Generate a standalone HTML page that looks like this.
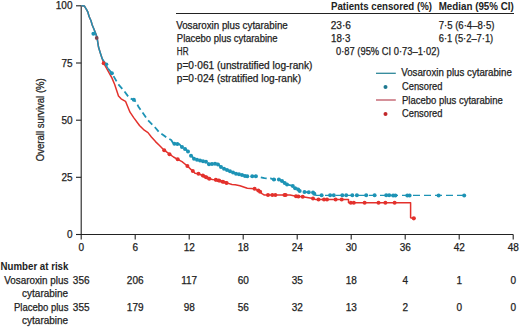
<!DOCTYPE html>
<html><head><meta charset="utf-8"><style>
html,body{margin:0;padding:0;background:#fff;}
body{width:520px;height:328px;overflow:hidden;}
svg{display:block;font-family:"Liberation Sans",sans-serif;fill:#222;}
text{stroke:#222;stroke-width:0.25px;}
text[font-weight=bold]{stroke-width:0;}
</style></head><body>
<svg width="520" height="328" viewBox="0 0 520 328">
<path d="M81.2,5.8 V234.5 H513.2" fill="none" stroke="#222" stroke-width="1.1"/>
<path d="M76,234.5 H81.2" stroke="#222" stroke-width="1.1"/>
<text x="72.5" y="238.0" text-anchor="end" font-size="10" >0</text>
<path d="M76,177.3 H81.2" stroke="#222" stroke-width="1.1"/>
<text x="72.5" y="180.8" text-anchor="end" font-size="10" >25</text>
<path d="M76,120.2 H81.2" stroke="#222" stroke-width="1.1"/>
<text x="72.5" y="123.7" text-anchor="end" font-size="10" >50</text>
<path d="M76,63.0 H81.2" stroke="#222" stroke-width="1.1"/>
<text x="72.5" y="66.5" text-anchor="end" font-size="10" >75</text>
<path d="M76,5.8 H81.2" stroke="#222" stroke-width="1.1"/>
<text x="72.5" y="9.3" text-anchor="end" font-size="10" >100</text>
<path d="M81.2,234.5 V239.5" stroke="#222" stroke-width="1.1"/>
<text x="81.2" y="251.3" text-anchor="middle" font-size="10" >0</text>
<path d="M135.2,234.5 V239.5" stroke="#222" stroke-width="1.1"/>
<text x="135.2" y="251.3" text-anchor="middle" font-size="10" >6</text>
<path d="M189.2,234.5 V239.5" stroke="#222" stroke-width="1.1"/>
<text x="189.2" y="251.3" text-anchor="middle" font-size="10" >12</text>
<path d="M243.2,234.5 V239.5" stroke="#222" stroke-width="1.1"/>
<text x="243.2" y="251.3" text-anchor="middle" font-size="10" >18</text>
<path d="M297.2,234.5 V239.5" stroke="#222" stroke-width="1.1"/>
<text x="297.2" y="251.3" text-anchor="middle" font-size="10" >24</text>
<path d="M351.2,234.5 V239.5" stroke="#222" stroke-width="1.1"/>
<text x="351.2" y="251.3" text-anchor="middle" font-size="10" >30</text>
<path d="M405.2,234.5 V239.5" stroke="#222" stroke-width="1.1"/>
<text x="405.2" y="251.3" text-anchor="middle" font-size="10" >36</text>
<path d="M459.2,234.5 V239.5" stroke="#222" stroke-width="1.1"/>
<text x="459.2" y="251.3" text-anchor="middle" font-size="10" >42</text>
<path d="M513.2,234.5 V239.5" stroke="#222" stroke-width="1.1"/>
<text x="513.2" y="251.3" text-anchor="middle" font-size="10" >48</text>
<text transform="translate(43.6,119.7) rotate(-90)" text-anchor="middle" font-size="10" textLength="83" lengthAdjust="spacingAndGlyphs">Overall survival (%)</text>
<polyline points="81.3,5.8 84.3,5.9 86.7,9.8 87.9,12.2 89.1,16.5 91.0,20.7 92.2,25.0 94.0,29.3 95.9,34.1 97.1,37.8 98.5,47.0 100.4,53.2 102.2,58.7 103.7,63.2 111.9,77.9 114.6,84.3 118.5,96.0 121.1,98.8 125.5,101.3 130.0,112.2 133.7,117.6 139.5,125.5 144.3,130.2 148.0,132.6 151.4,137.0 155.5,141.6 159.5,145.5 164.2,150.2 169.5,154.2 173.5,157.0 177.7,159.3 182.0,161.7 187.4,166.0 191.1,169.6 193.0,171.0 195.0,173.3 198.5,173.7 202.8,175.6 206.2,177.2 209.3,178.7 212.4,179.5 215.8,179.8 218.9,180.6 222.8,181.8 226.6,182.9 232.0,184.5 235.2,184.8 240.0,185.7 247.3,188.2 254.6,188.8 258.3,190.6 260.1,191.8 262.0,193.6 264.4,195.1 290.0,195.1 296.0,196.2 302.7,196.8 313.0,198.5 316.0,199.6 348.5,199.6 348.5,202.8 410.6,202.7 410.6,217.8 413.5,218.3" fill="none" stroke="#e3312c" stroke-width="1.5" stroke-linejoin="round"/>
<polyline points="81.3,5.8 84.3,5.9 86.7,9.8 87.9,12.2 89.1,16.5 91.0,20.7 92.2,25.0 94.0,29.3 95.9,34.1 97.1,37.8 98.5,47.0 100.4,53.2 102.2,58.7 105.0,63.0 108.0,68.5" fill="none" stroke="#1d93b5" stroke-width="1.5" stroke-linejoin="round"/>
<polyline points="108.0,68.5 111.9,73.3 118.3,84.3 123.8,90.6 129.3,98.0 133.8,99.8 136.6,102.5 138.3,106.5 147.4,119.5 155.6,128.0 159.1,132.2 163.9,135.5 166.5,137.5 171.2,140.0 173.4,143.6 179.5,144.2 181.3,146.5 184.4,148.3 188.0,151.3 190.5,155.0 194.1,158.7 200.2,160.5 206.3,161.7 209.0,164.0 217.0,163.4 222.5,168.0 228.8,170.6 235.6,173.4 240.9,174.5 247.1,176.3 256.0,176.2 260.1,177.2 264.4,178.2 270.5,178.4 274.1,179.6 279.0,179.6 282.7,181.5 287.0,184.5 292.9,185.9 294.8,188.3 297.2,188.3 299.0,190.7 304.5,192.0 313.0,192.6 314.3,193.8 316.0,195.3" fill="none" stroke="#1d93b5" stroke-width="1.8" stroke-dasharray="6,3.5" stroke-linejoin="round"/>
<polyline points="316.0,195.3 464.4,195.4" fill="none" stroke="#1d93b5" stroke-width="1.3" stroke-dasharray="7,4" stroke-dashoffset="2"/>
<circle cx="413.8" cy="218.3" r="2.1" fill="#e3312c"/>
<circle cx="103.7" cy="63.2" r="2.0" fill="#e3312c"/>
<circle cx="164.2" cy="150.2" r="2.0" fill="#e3312c"/>
<circle cx="169.5" cy="154.2" r="2.0" fill="#e3312c"/>
<circle cx="177.7" cy="159.3" r="2.0" fill="#e3312c"/>
<circle cx="187.4" cy="166.0" r="2.0" fill="#e3312c"/>
<circle cx="192.8" cy="170.9" r="2.0" fill="#e3312c"/>
<circle cx="198.5" cy="173.7" r="2.0" fill="#e3312c"/>
<circle cx="202.8" cy="175.6" r="2.0" fill="#e3312c"/>
<circle cx="206.2" cy="177.2" r="2.0" fill="#e3312c"/>
<circle cx="209.3" cy="178.7" r="2.0" fill="#e3312c"/>
<circle cx="215.8" cy="179.8" r="2.0" fill="#e3312c"/>
<circle cx="218.9" cy="180.6" r="2.0" fill="#e3312c"/>
<circle cx="222.8" cy="181.8" r="2.0" fill="#e3312c"/>
<circle cx="226.6" cy="182.9" r="2.0" fill="#e3312c"/>
<circle cx="254.6" cy="188.8" r="2.0" fill="#e3312c"/>
<circle cx="258.3" cy="190.6" r="2.0" fill="#e3312c"/>
<circle cx="260.1" cy="191.8" r="2.0" fill="#e3312c"/>
<circle cx="268.0" cy="195.1" r="2.0" fill="#e3312c"/>
<circle cx="272.3" cy="195.1" r="2.0" fill="#e3312c"/>
<circle cx="275.4" cy="195.1" r="2.0" fill="#e3312c"/>
<circle cx="284.5" cy="195.1" r="2.0" fill="#e3312c"/>
<circle cx="285.6" cy="195.1" r="2.0" fill="#e3312c"/>
<circle cx="296.0" cy="196.2" r="2.0" fill="#e3312c"/>
<circle cx="298.4" cy="196.4" r="2.0" fill="#e3312c"/>
<circle cx="302.7" cy="196.8" r="2.0" fill="#e3312c"/>
<circle cx="313.0" cy="198.5" r="2.0" fill="#e3312c"/>
<circle cx="318.5" cy="199.6" r="2.0" fill="#e3312c"/>
<circle cx="324.0" cy="199.6" r="2.0" fill="#e3312c"/>
<circle cx="327.0" cy="199.6" r="2.0" fill="#e3312c"/>
<circle cx="335.6" cy="199.6" r="2.0" fill="#e3312c"/>
<circle cx="341.7" cy="199.6" r="2.0" fill="#e3312c"/>
<circle cx="350.8" cy="202.8" r="2.0" fill="#e3312c"/>
<circle cx="353.8" cy="202.8" r="2.0" fill="#e3312c"/>
<circle cx="364.6" cy="202.8" r="2.0" fill="#e3312c"/>
<circle cx="378.5" cy="202.8" r="2.0" fill="#e3312c"/>
<circle cx="385.4" cy="202.7" r="2.0" fill="#e3312c"/>
<circle cx="394.6" cy="202.7" r="2.0" fill="#e3312c"/>
<circle cx="204.0" cy="176.2" r="1.6" fill="#e3312c"/>
<circle cx="205.5" cy="176.9" r="1.6" fill="#e3312c"/>
<circle cx="207.0" cy="177.6" r="1.6" fill="#e3312c"/>
<circle cx="208.5" cy="178.3" r="1.6" fill="#e3312c"/>
<circle cx="216.0" cy="179.9" r="1.6" fill="#e3312c"/>
<circle cx="218.0" cy="180.4" r="1.6" fill="#e3312c"/>
<circle cx="220.0" cy="180.9" r="1.6" fill="#e3312c"/>
<circle cx="222.0" cy="181.6" r="1.6" fill="#e3312c"/>
<circle cx="224.0" cy="182.1" r="1.6" fill="#e3312c"/>
<circle cx="226.0" cy="182.7" r="1.6" fill="#e3312c"/>
<circle cx="96.7" cy="37.9" r="1.9" fill="#7d4652"/>
<circle cx="93.4" cy="33.7" r="2.0" fill="#1d93b5"/>
<circle cx="106.6" cy="64.2" r="1.7" fill="#1d93b5"/>
<circle cx="111.9" cy="73.3" r="2.0" fill="#1d93b5"/>
<circle cx="133.8" cy="99.8" r="2.0" fill="#1d93b5"/>
<circle cx="174.4" cy="143.7" r="2.0" fill="#1d93b5"/>
<circle cx="177.4" cy="144.0" r="2.0" fill="#1d93b5"/>
<circle cx="247.3" cy="176.3" r="2.0" fill="#1d93b5"/>
<circle cx="252.2" cy="176.2" r="2.0" fill="#1d93b5"/>
<circle cx="255.9" cy="176.2" r="2.0" fill="#1d93b5"/>
<circle cx="273.9" cy="179.5" r="2.0" fill="#1d93b5"/>
<circle cx="278.9" cy="179.6" r="2.0" fill="#1d93b5"/>
<circle cx="282.0" cy="181.1" r="2.0" fill="#1d93b5"/>
<circle cx="284.7" cy="182.9" r="2.0" fill="#1d93b5"/>
<circle cx="287.0" cy="184.5" r="2.0" fill="#1d93b5"/>
<circle cx="292.8" cy="185.9" r="2.0" fill="#1d93b5"/>
<circle cx="295.1" cy="188.3" r="2.0" fill="#1d93b5"/>
<circle cx="298.2" cy="189.6" r="2.0" fill="#1d93b5"/>
<circle cx="299.7" cy="190.9" r="2.0" fill="#1d93b5"/>
<circle cx="304.5" cy="192.0" r="2.0" fill="#1d93b5"/>
<circle cx="308.8" cy="192.3" r="2.0" fill="#1d93b5"/>
<circle cx="313.0" cy="192.6" r="2.0" fill="#1d93b5"/>
<circle cx="314.3" cy="193.8" r="2.0" fill="#1d93b5"/>
<circle cx="321.6" cy="195.3" r="2.0" fill="#1d93b5"/>
<circle cx="330.1" cy="195.3" r="2.0" fill="#1d93b5"/>
<circle cx="333.8" cy="195.3" r="2.0" fill="#1d93b5"/>
<circle cx="342.3" cy="195.3" r="2.0" fill="#1d93b5"/>
<circle cx="346.2" cy="195.3" r="2.0" fill="#1d93b5"/>
<circle cx="352.3" cy="195.3" r="2.0" fill="#1d93b5"/>
<circle cx="356.9" cy="195.3" r="2.0" fill="#1d93b5"/>
<circle cx="366.2" cy="195.3" r="2.0" fill="#1d93b5"/>
<circle cx="374.6" cy="195.3" r="2.0" fill="#1d93b5"/>
<circle cx="386.2" cy="195.3" r="2.0" fill="#1d93b5"/>
<circle cx="389.2" cy="195.3" r="2.0" fill="#1d93b5"/>
<circle cx="393.1" cy="195.4" r="2.0" fill="#1d93b5"/>
<circle cx="395.4" cy="195.4" r="2.0" fill="#1d93b5"/>
<circle cx="407.3" cy="195.4" r="2.0" fill="#1d93b5"/>
<circle cx="409.6" cy="195.4" r="2.0" fill="#1d93b5"/>
<circle cx="438.6" cy="195.4" r="2.0" fill="#1d93b5"/>
<circle cx="464.2" cy="195.4" r="2.0" fill="#1d93b5"/>
<circle cx="182.0" cy="147.1" r="2.0" fill="#1d93b5"/>
<circle cx="185.0" cy="149.0" r="2.0" fill="#1d93b5"/>
<circle cx="188.0" cy="151.5" r="2.0" fill="#1d93b5"/>
<circle cx="191.0" cy="155.7" r="2.0" fill="#1d93b5"/>
<circle cx="194.0" cy="158.8" r="2.0" fill="#1d93b5"/>
<circle cx="197.0" cy="159.8" r="2.0" fill="#1d93b5"/>
<circle cx="200.0" cy="160.6" r="2.0" fill="#1d93b5"/>
<circle cx="203.0" cy="161.3" r="2.0" fill="#1d93b5"/>
<circle cx="206.0" cy="161.8" r="2.0" fill="#1d93b5"/>
<circle cx="209.0" cy="164.2" r="2.0" fill="#1d93b5"/>
<circle cx="212.0" cy="164.0" r="2.0" fill="#1d93b5"/>
<circle cx="215.0" cy="163.8" r="2.0" fill="#1d93b5"/>
<circle cx="218.0" cy="164.4" r="2.0" fill="#1d93b5"/>
<circle cx="221.0" cy="166.9" r="2.0" fill="#1d93b5"/>
<circle cx="224.0" cy="168.8" r="2.0" fill="#1d93b5"/>
<circle cx="227.0" cy="170.1" r="2.0" fill="#1d93b5"/>
<circle cx="230.0" cy="171.3" r="2.0" fill="#1d93b5"/>
<circle cx="233.0" cy="172.5" r="2.0" fill="#1d93b5"/>
<circle cx="236.0" cy="173.7" r="2.0" fill="#1d93b5"/>
<circle cx="239.0" cy="174.3" r="2.0" fill="#1d93b5"/>
<circle cx="242.0" cy="175.0" r="2.0" fill="#1d93b5"/>
<circle cx="245.0" cy="175.9" r="2.0" fill="#1d93b5"/>
<path d="M176,13.5 H514" stroke="#222" stroke-width="1"/>
<text x="331.0" y="9.6" font-size="10" font-weight="bold" textLength="101.0" lengthAdjust="spacingAndGlyphs" >Patients censored (%)</text>
<text x="438.7" y="9.6" font-size="10" font-weight="bold" textLength="75.1" lengthAdjust="spacingAndGlyphs" >Median (95% CI)</text>
<text x="176.2" y="28.6" font-size="10" textLength="111.6" lengthAdjust="spacingAndGlyphs" >Vosaroxin plus cytarabine</text>
<text x="176.8" y="41.9" font-size="10" textLength="100.8" lengthAdjust="spacingAndGlyphs" >Placebo plus cytarabine</text>
<text x="176.8" y="55.3" font-size="10" textLength="11.7" lengthAdjust="spacingAndGlyphs" >HR</text>
<text x="176.8" y="68.9" font-size="10" textLength="135.6" lengthAdjust="spacingAndGlyphs" >p=0·061 (unstratified log-rank)</text>
<text x="176.8" y="82.3" font-size="10" textLength="124.2" lengthAdjust="spacingAndGlyphs" >p=0·024 (stratified log-rank)</text>
<text x="330.7" y="28.6" font-size="10" textLength="20.2" lengthAdjust="spacingAndGlyphs" >23·6</text>
<text x="331.0" y="41.6" font-size="10" textLength="19.5" lengthAdjust="spacingAndGlyphs" >18·3</text>
<text x="438.7" y="28.6" font-size="10" textLength="55.8" lengthAdjust="spacingAndGlyphs" >7·5 (6·4–8·5)</text>
<text x="438.7" y="41.6" font-size="10" textLength="54.5" lengthAdjust="spacingAndGlyphs" >6·1 (5·2–7·1)</text>
<text x="336.0" y="55.0" font-size="10" textLength="103.5" lengthAdjust="spacingAndGlyphs" >0·87 (95% CI 0·73–1·02)</text>
<text x="401.3" y="76.3" font-size="10" textLength="110.5" lengthAdjust="spacingAndGlyphs" >Vosaroxin plus cytarabine</text>
<text x="402.0" y="89.6" font-size="10" textLength="40.4" lengthAdjust="spacingAndGlyphs" >Censored</text>
<text x="402.0" y="103.5" font-size="10" textLength="100.7" lengthAdjust="spacingAndGlyphs" >Placebo plus cytarabine</text>
<text x="402.0" y="117.0" font-size="10" textLength="40.4" lengthAdjust="spacingAndGlyphs" >Censored</text>
<text x="0.6" y="269.7" font-size="10" font-weight="bold" textLength="67.8" lengthAdjust="spacingAndGlyphs" >Number at risk</text>
<text x="4.2" y="283.9" font-size="10" textLength="64.2" lengthAdjust="spacingAndGlyphs" >Vosaroxin plus</text>
<text x="22.1" y="297.1" font-size="10" textLength="46.0" lengthAdjust="spacingAndGlyphs" >cytarabine</text>
<text x="14.0" y="310.8" font-size="10" textLength="54.4" lengthAdjust="spacingAndGlyphs" >Placebo plus</text>
<text x="22.1" y="323.9" font-size="10" textLength="46.0" lengthAdjust="spacingAndGlyphs" >cytarabine</text>
<path d="M376,73.3 H395.8" stroke="#2e8799" stroke-width="1.3"/>
<circle cx="385.5" cy="87" r="2" fill="#1d7890"/>
<path d="M376,100 H395.8" stroke="#bf5564" stroke-width="1.3"/>
<circle cx="385.5" cy="114" r="2" fill="#c1262a"/>
<text x="81.2" y="284.3" text-anchor="middle" font-size="10" >356</text>
<text x="81.2" y="310.8" text-anchor="middle" font-size="10" >355</text>
<text x="135.2" y="284.3" text-anchor="middle" font-size="10" >206</text>
<text x="135.2" y="310.8" text-anchor="middle" font-size="10" >179</text>
<text x="189.2" y="284.3" text-anchor="middle" font-size="10" >117</text>
<text x="189.2" y="310.8" text-anchor="middle" font-size="10" >98</text>
<text x="243.2" y="284.3" text-anchor="middle" font-size="10" >60</text>
<text x="243.2" y="310.8" text-anchor="middle" font-size="10" >56</text>
<text x="297.2" y="284.3" text-anchor="middle" font-size="10" >35</text>
<text x="297.2" y="310.8" text-anchor="middle" font-size="10" >32</text>
<text x="351.2" y="284.3" text-anchor="middle" font-size="10" >18</text>
<text x="351.2" y="310.8" text-anchor="middle" font-size="10" >13</text>
<text x="405.2" y="284.3" text-anchor="middle" font-size="10" >4</text>
<text x="405.2" y="310.8" text-anchor="middle" font-size="10" >2</text>
<text x="459.2" y="284.3" text-anchor="middle" font-size="10" >1</text>
<text x="459.2" y="310.8" text-anchor="middle" font-size="10" >0</text>
<text x="513.2" y="284.3" text-anchor="middle" font-size="10" >0</text>
<text x="513.2" y="310.8" text-anchor="middle" font-size="10" >0</text>
</svg>
</body></html>
